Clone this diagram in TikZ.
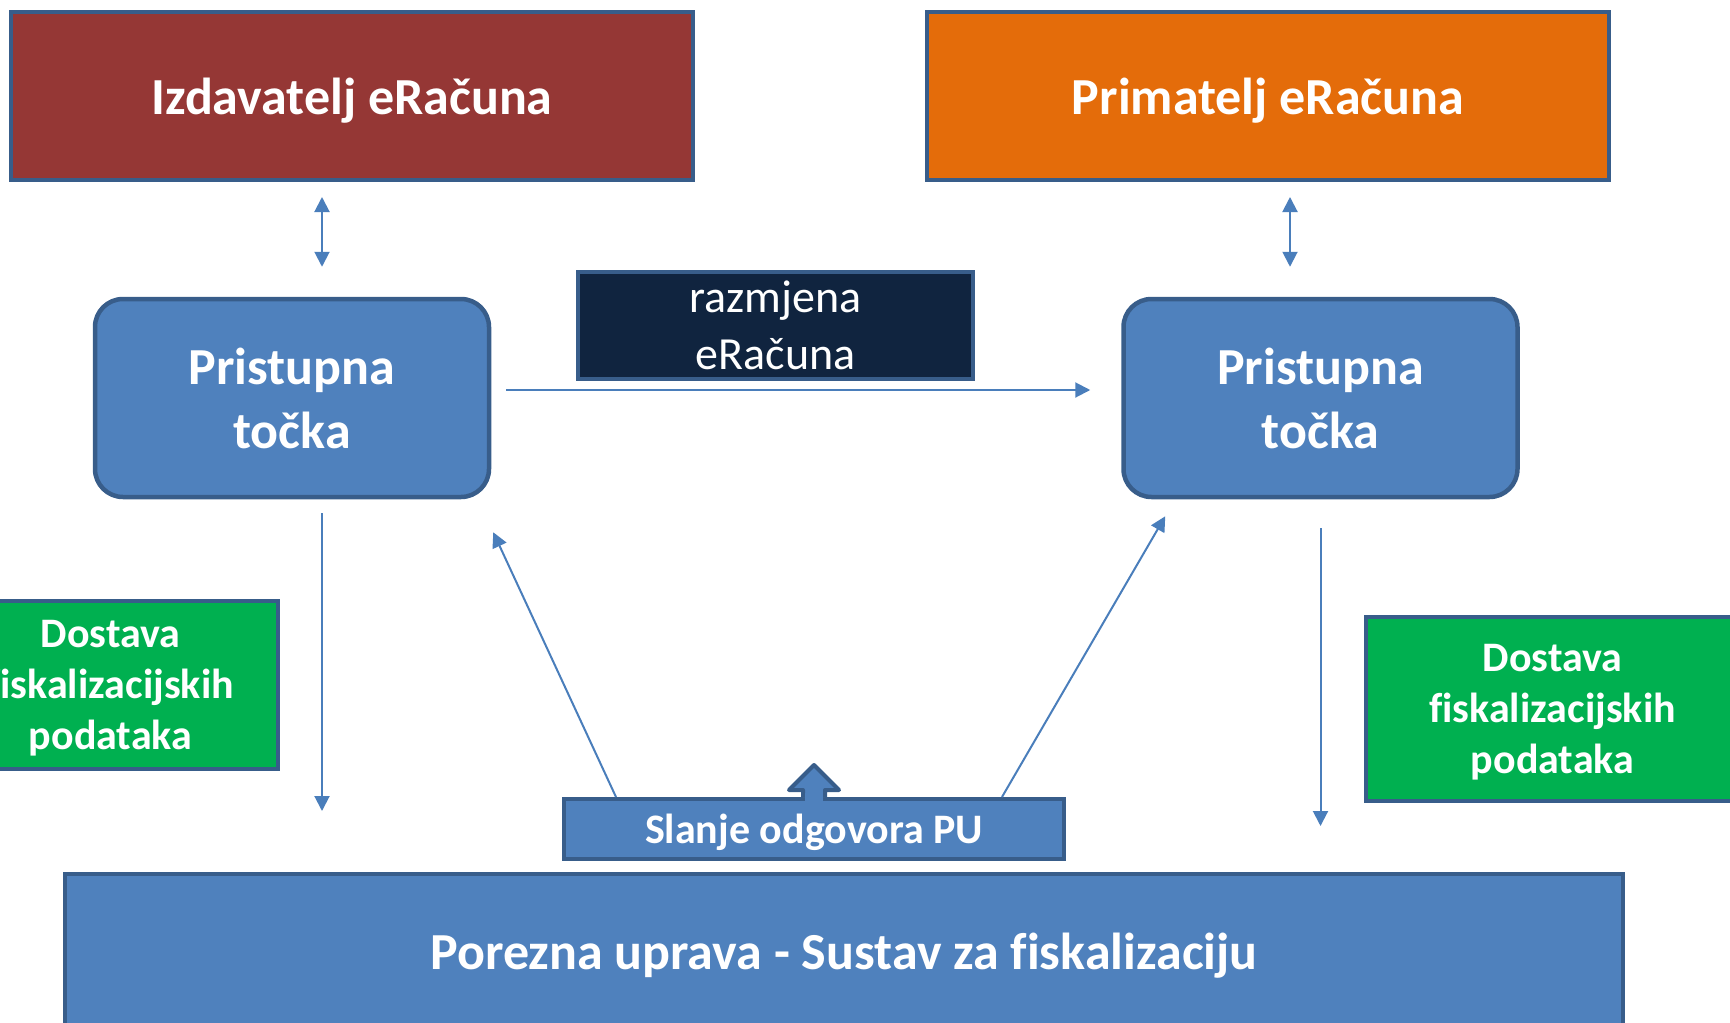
\documentclass[tikz,border=0pt]{standalone}
\usepackage{fontspec}
\setmainfont[Ligatures=CommonOff]{Carlito}
\usetikzlibrary{arrows.meta,positioning}
\definecolor{rub}{HTML}{385D8A}
\definecolor{plava}{HTML}{4F81BD}
\definecolor{linija}{HTML}{4A7EBB}
\definecolor{crvena}{HTML}{953735}
\definecolor{narancasta}{HTML}{E46C0A}
\definecolor{zelena}{HTML}{00B050}
\definecolor{tamna}{HTML}{10243F}
\tikzset{
  kutija/.style={draw=rub,line width=4pt,text=white,font=\bfseries,align=center,inner sep=0pt},
  spust/.style={text depth=0pt},
  tocka/.style={kutija,fill=plava,rounded corners=28pt,line width=4.5pt,minimum width=394pt,minimum height=198pt,font=\fontsize{52}{64}\selectfont\bfseries},
  podaci/.style={kutija,spust,fill=zelena,font=\fontsize{42}{51}\selectfont\bfseries},
  veza/.style={draw=linija,line width=2pt,-{Triangle[length=15pt,width=15pt]}},
  dvoveza/.style={veza,{Triangle[length=15pt,width=15pt]}-{Triangle[length=15pt,width=15pt]}}
}
\begin{document}
\begin{tikzpicture}[x=1pt,y=-1pt]
    \useasboundingbox (0,0) rectangle (1730,1023);
    \clip (0,0) rectangle (1730,1023);
    % sudionici
    \node[kutija,spust,fill=crvena,minimum width=682pt,minimum height=168pt,font=\fontsize{52}{64}\selectfont\bfseries] (izd) at (352,96) {Izdavatelj eRačuna};
    \node[kutija,spust,fill=narancasta,minimum width=682pt,minimum height=168pt,font=\fontsize{52}{64}\selectfont\bfseries] (prim) at (1268,96) {Primatelj eRačuna};
    \node[tocka] (pt1) at (292,398) {Pristupna\\točka};
    \node[tocka] (pt2) at (1320.5,398) {Pristupna\\točka};
    \node[kutija,fill=tamna,minimum width=395pt,minimum height=107pt,font=\fontsize{46}{57}\selectfont] (razm) at (775.5,325.5) {razmjena\\eRačuna};
    \node[podaci,minimum width=335pt,minimum height=168pt] (gl) at (110.5,685) {Dostava\\fiskalizacijskih\\podataka};
    \node[podaci,minimum width=373pt,minimum height=184pt] (gr) at (1552.5,709) {Dostava\\fiskalizacijskih\\podataka};
    \node[kutija,spust,fill=plava,minimum width=1558pt,minimum height=154pt,font=\fontsize{52}{64}\selectfont\bfseries] (pu) at (844,951) {Porezna uprava - Sustav za fiskalizaciju};
    % veze
    \draw[dvoveza,shorten <=15pt,shorten >=30pt] ([xshift=-30pt]izd.south) -- ([xshift=30pt]pt1.north);
    \draw[dvoveza,shorten <=15pt,shorten >=30pt] ([xshift=22pt]prim.south) -- ([xshift=-30.5pt]pt2.north);
    \draw[veza,shorten <=15pt,shorten >=31pt] ([yshift=8pt]pt1.east) -- ([yshift=8pt]pt2.west);
    \draw[veza,shorten <=14pt,shorten >=61pt] ([xshift=30pt]pt1.south) -- ([xshift=30pt]pt1.south |- pu.north);
    \draw[veza,shorten <=29pt,shorten >=46pt] (pt2.south) -- (pt2.south |- pu.north);
    % odgovor PU
    \node[kutija,spust,fill=plava,minimum width=500pt,minimum height=60pt,font=\fontsize{42}{51}\selectfont\bfseries] (odg) at (814,829) {Slanje odgovora PU};
    \draw[veza] ([xshift=54pt]odg.north west) -- ([xshift=2pt,yshift=-33pt]pt1.south east);
    \draw[veza] ([xshift=-64pt]odg.north east) -- ([xshift=44pt,yshift=-17pt]pt2.south west);
    \draw[draw=rub,fill=plava,line width=4pt,line join=round] ([xshift=-11pt]odg.north) -- ++(0,-7) -- ++(-14,0) -- ++(25,-25) -- ++(25,25) -- ++(-14,0) -- ++(0,7);
    \fill[plava] ([xshift=-9pt,yshift=4pt]odg.north) rectangle ([xshift=9pt,yshift=-4pt]odg.north);
\end{tikzpicture}
\end{document}
